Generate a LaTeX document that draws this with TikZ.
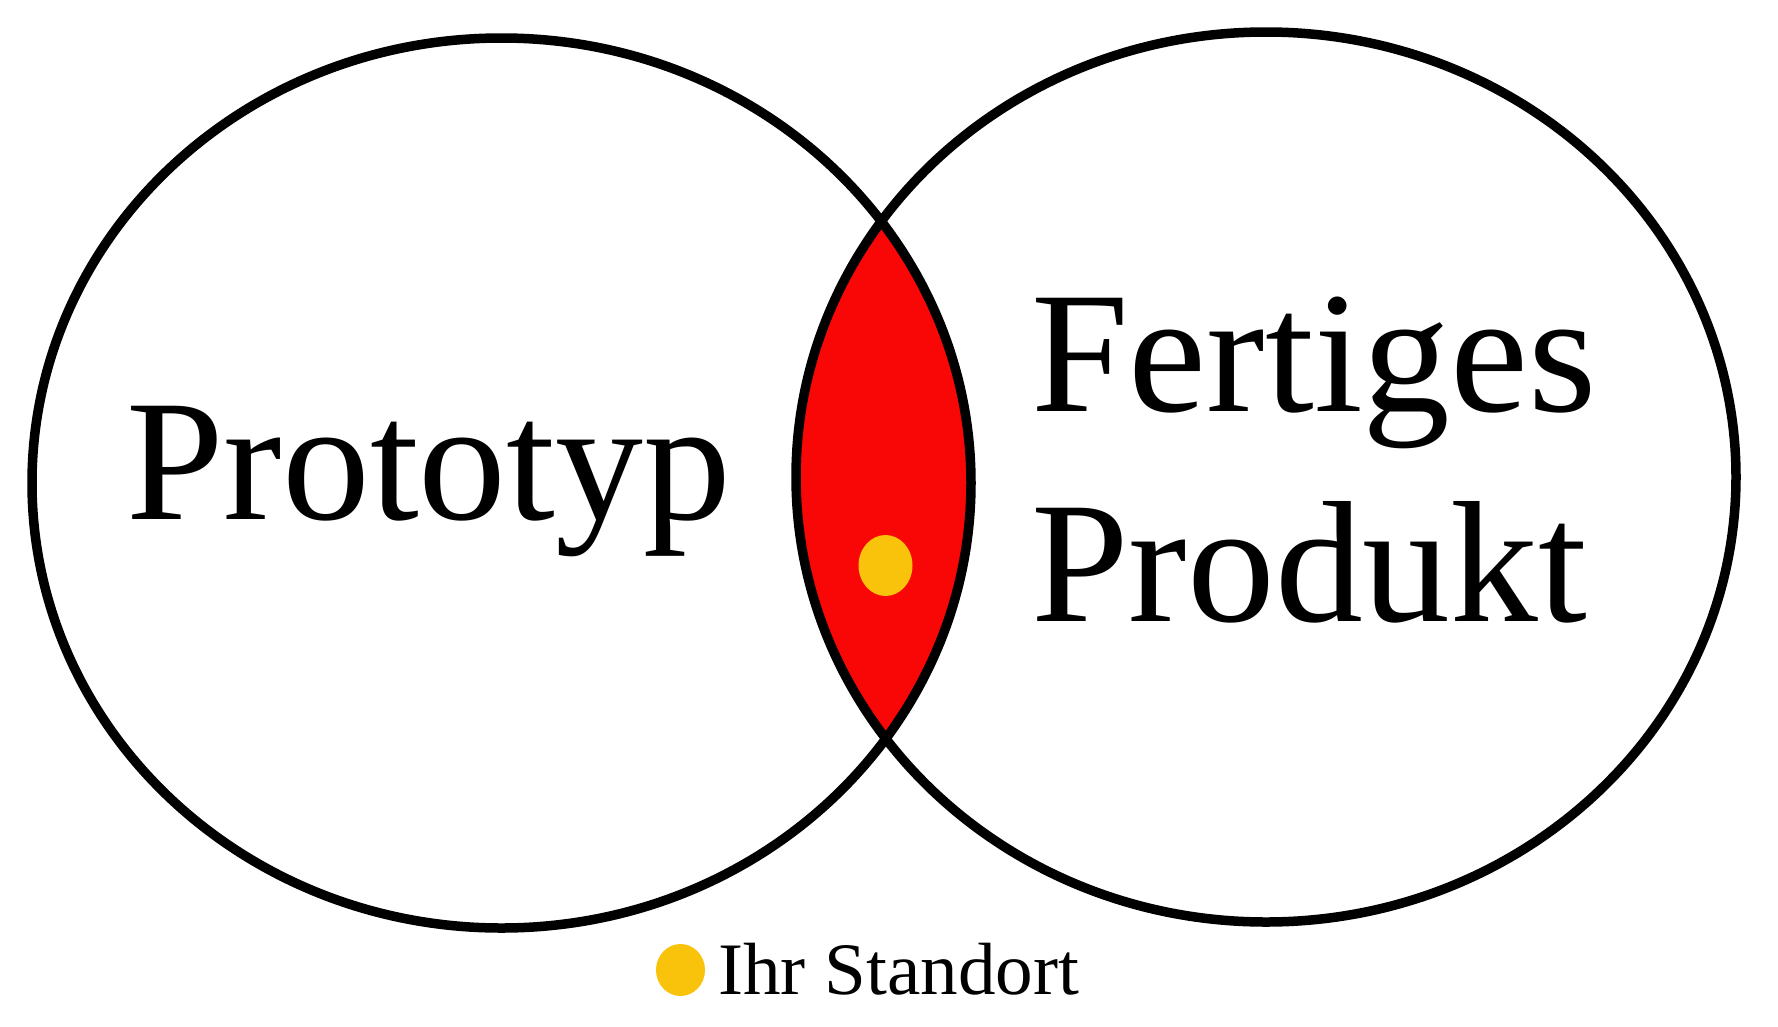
\documentclass[tikz,border=0pt]{standalone}
\usepackage{fontspec}
\setmainfont{Liberation Serif}[FakeStretch=1.015]
\definecolor{lensred}{HTML}{F90606}
\definecolor{dotyellow}{HTML}{F8C30A}
\begin{document}
\begin{tikzpicture}[x=1pt,y=-1pt,
  ring/.style={draw=black,line width=9.5pt},
  bigtext/.style={inner sep=0pt,anchor=base west,font=\fontsize{173}{173}\selectfont},
  smalltext/.style={inner sep=0pt,anchor=base west,font=\fontsize{74}{74}\selectfont}]
\useasboundingbox (0,0) rectangle (1778,1026);
\coordinate (lc) at (501.5,483);
\coordinate (rc) at (1266,477);
% lens
\begin{scope}
  \clip (lc) ellipse [x radius=469.5pt, y radius=445pt];
  \fill[lensred] (rc) ellipse [x radius=470pt, y radius=445pt];
\end{scope}
\draw[ring] (lc) ellipse [x radius=469.5pt, y radius=445pt];
\draw[ring] (rc) ellipse [x radius=470pt, y radius=445pt];
% dot in lens
\fill[dotyellow] (885.5,565.5) ellipse [x radius=27pt, y radius=30.5pt];
% texts
\node[bigtext] (proto) at (126,519) {Prototyp};
\node[bigtext] (fert) at (1031,411.5) {Fertiges};
\node[bigtext] (prod) at (1031,621.5) {Produkt};
% legend
\fill[dotyellow] (680.5,970) ellipse [x radius=24.5pt, y radius=26pt];
\node[smalltext] (legend) at (718,994) {Ihr Standort};
\end{tikzpicture}
\end{document}
